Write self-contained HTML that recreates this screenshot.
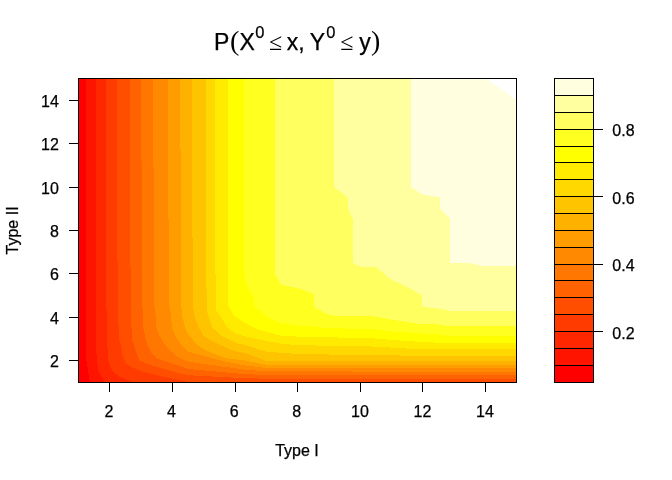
<!DOCTYPE html>
<html><head><meta charset="utf-8"><title>P(X0 ≤ x, Y0 ≤ y)</title>
<style>
html,body{margin:0;padding:0;background:#fff;}
svg{display:block;}
text{font-family:"Liberation Sans",sans-serif;font-size:16px;fill:#000;stroke:#000;stroke-width:0.25px;}
.t{font-size:23px;}
.s{font-family:"Liberation Serif","DejaVu Serif",serif;stroke:none;}
.sup{font-size:16.5px;}
</style></head><body>
<svg width="672" height="480" viewBox="0 0 672 480">
<rect width="672" height="480" fill="#fff"/>
<g shape-rendering="crispEdges">
<rect x="78.72" y="78.72" width="437.76" height="303.36" fill="#FF0000"/>
<polygon points="86.00,78.72 86.00,344.00 86.40,360.40 89.80,382.08 516.48,382.08 516.48,78.72" fill="#FF1400"/>
<polygon points="96.00,78.72 96.00,344.00 96.80,360.40 98.50,371.20 104.50,382.08 516.48,382.08 516.48,78.72" fill="#FF2700"/>
<polygon points="106.00,78.72 106.50,310.00 107.30,344.00 108.20,360.40 110.00,366.00 112.50,371.20 120.20,377.30 132.00,381.50 135.00,382.08 516.48,382.08 516.48,78.72" fill="#FF3B00"/>
<polygon points="116.80,78.72 117.70,310.00 119.30,340.00 120.60,344.00 122.70,355.70 126.00,363.20 132.00,367.30 142.00,371.50 162.00,376.50 180.00,380.00 188.00,382.08 516.48,382.08 516.48,78.72" fill="#FF4E00"/>
<polygon points="129.70,78.72 130.70,310.00 132.00,339.00 133.70,344.00 136.20,352.30 139.50,360.70 152.80,365.70 169.50,370.70 188.00,375.25 244.00,378.20 266.30,378.70 516.48,378.80 516.48,78.72" fill="#FF6200"/>
<polygon points="141.00,78.72 142.40,304.00 143.25,327.30 145.30,337.30 147.20,344.00 151.20,352.30 156.20,358.20 167.00,362.00 188.00,369.00 244.00,374.00 266.30,375.00 516.48,375.40 516.48,78.72" fill="#FF7600"/>
<polygon points="153.00,78.72 154.30,304.00 155.75,317.30 156.60,329.00 159.50,335.70 164.30,344.00 168.70,349.00 177.00,356.50 188.00,361.70 244.00,369.50 266.30,371.30 516.48,371.90 516.48,78.72" fill="#FF8900"/>
<polygon points="167.70,78.72 169.00,304.00 171.20,317.30 172.00,328.20 176.20,337.30 180.75,344.00 188.00,351.50 221.30,360.70 244.00,365.30 266.30,368.00 516.48,368.30 516.48,78.72" fill="#FF9D00"/>
<polygon points="180.20,78.72 181.20,304.00 182.40,317.30 185.30,328.20 188.00,334.00 196.30,344.00 204.70,349.80 225.50,358.20 244.00,360.30 266.30,364.70 516.48,365.00 516.48,78.72" fill="#FFB100"/>
<polygon points="191.70,78.72 192.70,274.00 193.50,310.00 195.00,317.30 198.00,325.70 203.80,336.50 216.30,343.20 218.00,344.00 233.00,350.70 244.00,352.80 266.30,360.80 300.00,361.10 516.48,360.60 516.48,78.72" fill="#FFC400"/>
<polygon points="206.00,78.72 206.30,274.00 206.80,310.00 208.00,314.80 212.20,327.30 221.30,335.70 234.70,342.30 239.70,344.00 244.00,344.70 266.30,351.70 300.00,354.20 356.00,354.80 391.00,355.40 440.00,356.00 516.48,355.60 516.48,78.72" fill="#FFD800"/>
<polygon points="215.00,78.72 215.50,274.00 216.00,310.00 219.70,314.80 227.20,327.30 234.70,333.20 244.00,336.10 259.00,339.50 281.20,343.75 300.00,345.30 356.00,346.00 375.00,346.60 406.00,348.50 440.00,349.10 516.48,349.10 516.48,78.72" fill="#FFEB00"/>
<polygon points="228.00,78.72 228.00,273.70 228.50,305.80 233.80,315.70 244.00,322.40 259.00,329.80 280.70,335.70 300.00,336.70 356.00,337.90 375.00,338.50 406.00,341.00 440.00,342.90 516.48,342.80 516.48,78.72" fill="#FFFF00"/>
<polygon points="244.30,78.72 244.30,273.70 246.30,285.00 250.50,293.30 253.80,297.00 254.50,306.20 267.30,317.30 281.50,323.60 300.00,325.70 315.60,326.70 328.00,328.30 370.00,328.80 390.80,331.40 411.70,333.00 440.00,334.60 445.00,335.50 516.48,336.30 516.48,78.72" fill="#FFFF20"/>
<polygon points="275.00,78.72 275.00,273.70 281.00,285.00 300.00,288.70 313.50,293.90 313.50,306.40 328.10,314.70 336.50,315.80 370.00,315.80 390.80,319.40 416.90,323.60 440.00,324.60 446.00,325.90 516.48,325.80 516.48,78.72" fill="#FFFF60"/>
<polygon points="334.20,78.72 334.20,187.00 348.30,197.90 348.30,208.70 353.00,219.60 353.00,262.90 360.10,266.70 375.80,266.70 391.40,280.00 401.25,284.00 421.90,294.90 421.90,306.40 440.00,309.00 447.50,310.50 516.48,310.90 516.48,78.72" fill="#FFFF9F"/>
<polygon points="410.50,78.72 410.50,187.00 422.70,194.50 440.00,197.50 440.00,208.50 450.00,218.50 450.00,262.50 468.70,263.00 480.30,265.50 516.48,265.70 516.48,78.72" fill="#FFFFDF"/>
<polygon points="486.00,78.72 516.48,99.70 516.48,78.72" fill="#FFFFFF"/>
</g>
<g shape-rendering="crispEdges">
<rect x="554" y="365" width="40" height="18" fill="#FF0000"/>
<rect x="554" y="348" width="40" height="18" fill="#FF1400"/>
<rect x="554" y="331" width="40" height="18" fill="#FF2700"/>
<rect x="554" y="314" width="40" height="18" fill="#FF3B00"/>
<rect x="554" y="297" width="40" height="18" fill="#FF4E00"/>
<rect x="554" y="280" width="40" height="18" fill="#FF6200"/>
<rect x="554" y="264" width="40" height="17" fill="#FF7600"/>
<rect x="554" y="247" width="40" height="18" fill="#FF8900"/>
<rect x="554" y="230" width="40" height="18" fill="#FF9D00"/>
<rect x="554" y="213" width="40" height="18" fill="#FFB100"/>
<rect x="554" y="196" width="40" height="18" fill="#FFC400"/>
<rect x="554" y="179" width="40" height="18" fill="#FFD800"/>
<rect x="554" y="162" width="40" height="18" fill="#FFEB00"/>
<rect x="554" y="146" width="40" height="17" fill="#FFFF00"/>
<rect x="554" y="129" width="40" height="18" fill="#FFFF20"/>
<rect x="554" y="112" width="40" height="18" fill="#FFFF60"/>
<rect x="554" y="95" width="40" height="18" fill="#FFFF9F"/>
<rect x="554" y="78" width="40" height="18" fill="#FFFFDF"/>
<rect x="554" y="78" width="40" height="1" fill="#000"/>
<rect x="554" y="95" width="40" height="1" fill="#000"/>
<rect x="554" y="112" width="40" height="1" fill="#000"/>
<rect x="554" y="129" width="40" height="1" fill="#000"/>
<rect x="554" y="146" width="40" height="1" fill="#000"/>
<rect x="554" y="162" width="40" height="1" fill="#000"/>
<rect x="554" y="179" width="40" height="1" fill="#000"/>
<rect x="554" y="196" width="40" height="1" fill="#000"/>
<rect x="554" y="213" width="40" height="1" fill="#000"/>
<rect x="554" y="230" width="40" height="1" fill="#000"/>
<rect x="554" y="247" width="40" height="1" fill="#000"/>
<rect x="554" y="264" width="40" height="1" fill="#000"/>
<rect x="554" y="280" width="40" height="1" fill="#000"/>
<rect x="554" y="297" width="40" height="1" fill="#000"/>
<rect x="554" y="314" width="40" height="1" fill="#000"/>
<rect x="554" y="331" width="40" height="1" fill="#000"/>
<rect x="554" y="348" width="40" height="1" fill="#000"/>
<rect x="554" y="365" width="40" height="1" fill="#000"/>
<rect x="554" y="382" width="40" height="1" fill="#000"/>
<rect x="554" y="78" width="1" height="305" fill="#000"/>
<rect x="593" y="78" width="1" height="305" fill="#000"/>
<rect x="593" y="331" width="10" height="1" fill="#000"/>
<rect x="593" y="264" width="10" height="1" fill="#000"/>
<rect x="593" y="196" width="10" height="1" fill="#000"/>
<rect x="593" y="129" width="10" height="1" fill="#000"/>
</g>
<text x="612.3" y="338.6">0.2</text>
<text x="612.3" y="271.2">0.4</text>
<text x="612.3" y="203.8">0.6</text>
<text x="612.3" y="136.4">0.8</text>
<g shape-rendering="crispEdges" fill="#000">
<rect x="78" y="78" width="439" height="1"/><rect x="78" y="382" width="439" height="1"/>
<rect x="78" y="78" width="1" height="305"/><rect x="516" y="78" width="1" height="305"/>
<rect x="109" y="382" width="1" height="10"/>
<rect x="69" y="360" width="10" height="1"/>
<rect x="172" y="382" width="1" height="10"/>
<rect x="69" y="317" width="10" height="1"/>
<rect x="235" y="382" width="1" height="10"/>
<rect x="69" y="273" width="10" height="1"/>
<rect x="297" y="382" width="1" height="10"/>
<rect x="69" y="230" width="10" height="1"/>
<rect x="360" y="382" width="1" height="10"/>
<rect x="69" y="187" width="10" height="1"/>
<rect x="422" y="382" width="1" height="10"/>
<rect x="69" y="143" width="10" height="1"/>
<rect x="485" y="382" width="1" height="10"/>
<rect x="69" y="100" width="10" height="1"/>
</g>
<text x="109.0" y="417" text-anchor="middle">2</text>
<text x="58.8" y="367.0" text-anchor="end">2</text>
<text x="171.5" y="417" text-anchor="middle">4</text>
<text x="58.8" y="323.7" text-anchor="end">4</text>
<text x="234.1" y="417" text-anchor="middle">6</text>
<text x="58.8" y="280.3" text-anchor="end">6</text>
<text x="296.6" y="417" text-anchor="middle">8</text>
<text x="58.8" y="237.0" text-anchor="end">8</text>
<text x="359.9" y="417" text-anchor="middle">10</text>
<text x="58.8" y="193.7" text-anchor="end">10</text>
<text x="422.5" y="417" text-anchor="middle">12</text>
<text x="58.8" y="150.3" text-anchor="end">12</text>
<text x="485.0" y="417" text-anchor="middle">14</text>
<text x="58.8" y="107.0" text-anchor="end">14</text>
<text class="t" y="49.6"><tspan x="214">P</tspan><tspan class="s" x="230" font-size="28px">(</tspan><tspan x="239.5">X</tspan><tspan class="sup" x="255.3" y="38">0</tspan><tspan class="s" x="269" y="49.6" font-size="24px">≤</tspan><tspan x="286.7">x,</tspan><tspan x="309.8">Y</tspan><tspan class="sup" x="326.2" y="38">0</tspan><tspan class="s" x="340.3" y="49.6" font-size="24px">≤</tspan><tspan x="359.2">y</tspan><tspan class="s" x="371" font-size="28px">)</tspan></text>
<text x="297" y="456" text-anchor="middle">Type I</text>
<text transform="translate(18,230.4) rotate(-90)" text-anchor="middle">Type II</text>
</svg>
</body></html>
